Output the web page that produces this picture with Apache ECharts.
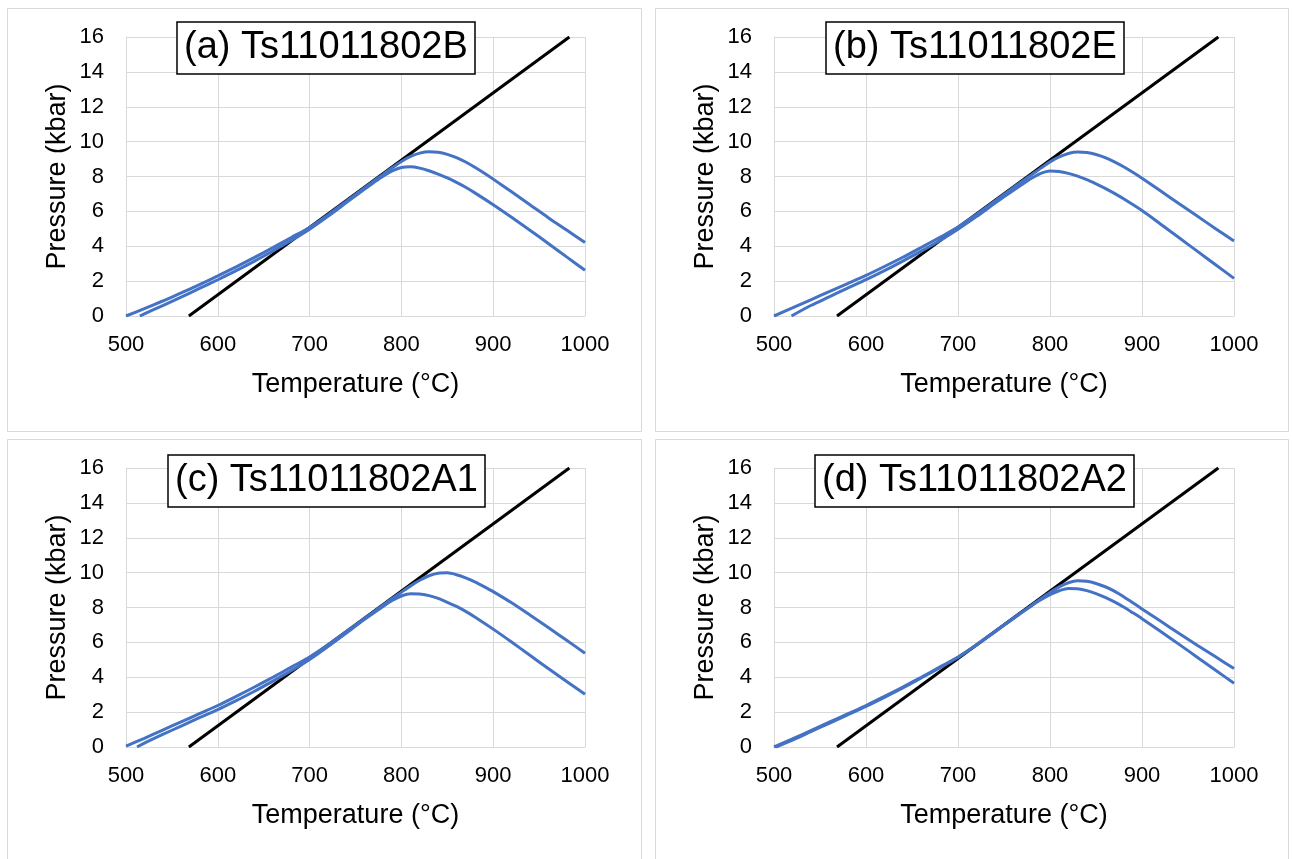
<!DOCTYPE html>
<html><head><meta charset="utf-8">
<script src="https://cdn.jsdelivr.net/npm/echarts/dist/echarts.min.js"></script>
<style>html,body{margin:0;padding:0;background:#fff}#c{width:1292px;height:859px}</style>
</head><body><div id="c"></div>
<script>
// ---- data ----
const panelTitles = ['(a) Ts11011802B', '(b) Ts11011802E', '(c) Ts11011802A1', '(d) Ts11011802A2'];
const xName = 'Temperature (°C)';
const yName = 'Pressure (kbar)';
const xMin = 500, xMax = 1000, xStep = 100;
const yMin = 0, yMax = 16, yStep = 2;

// black reference line (same in every panel): [T, P]
const refLine = [[568.5, 0], [983, 16]];

// panel (a)
const aHi = [[500,0],[520,0.42],[540,0.86],[560,1.32],[580,1.8],[600,2.3],[620,2.82],[640,3.36],[660,3.92],[680,4.5],[700,5.08],[720,5.8],[740,6.58],[760,7.36],[780,8.12],[790,8.5],[800,8.86],[810,9.15],[820,9.34],[830,9.42],[840,9.39],[850,9.27],[860,9.08],[870,8.83],[880,8.53],[890,8.2],[900,7.85],[920,7.12],[940,6.38],[960,5.64],[980,4.93],[1000,4.22]];
const aLo = [[515,0],[520,0.12],[540,0.6],[560,1.08],[580,1.58],[600,2.08],[620,2.6],[640,3.15],[660,3.73],[680,4.33],[700,4.98],[720,5.72],[740,6.5],[760,7.28],[770,7.66],[780,8.02],[790,8.32],[800,8.52],[810,8.56],[820,8.48],[830,8.33],[840,8.14],[850,7.92],[860,7.66],[870,7.38],[880,7.06],[900,6.38],[920,5.66],[940,4.92],[960,4.16],[980,3.39],[1000,2.62]];
// panel (b)
const bHi = [[500,0],[520,0.46],[540,0.93],[560,1.4],[580,1.86],[600,2.33],[620,2.84],[640,3.37],[660,3.93],[680,4.5],[700,5.1],[720,5.82],[740,6.58],[760,7.36],[780,8.1],[790,8.48],[800,8.84],[810,9.12],[820,9.32],[830,9.4],[840,9.37],[850,9.26],[860,9.08],[870,8.84],[880,8.56],[890,8.24],[900,7.9],[920,7.18],[940,6.45],[960,5.73],[980,5.01],[1000,4.3]];
const bLo = [[519,0],[540,0.6],[560,1.1],[580,1.6],[600,2.08],[620,2.6],[640,3.15],[660,3.72],[680,4.32],[700,4.98],[720,5.7],[740,6.46],[760,7.2],[770,7.56],[780,7.9],[790,8.18],[800,8.32],[810,8.29],[820,8.18],[830,8.02],[840,7.82],[850,7.58],[860,7.32],[870,7.03],[880,6.72],[900,6.05],[920,5.28],[940,4.5],[960,3.72],[980,2.94],[1000,2.16]];
// panel (c)
const cHi = [[500,0.05],[520,0.5],[540,0.97],[560,1.44],[580,1.91],[600,2.38],[620,2.9],[640,3.44],[660,4.0],[680,4.58],[700,5.16],[720,5.86],[740,6.62],[760,7.38],[780,8.14],[800,8.88],[810,9.24],[820,9.56],[830,9.82],[840,9.97],[850,9.99],[860,9.88],[870,9.7],[880,9.47],[890,9.2],[900,8.91],[920,8.27],[940,7.57],[960,6.85],[980,6.12],[1000,5.38]];
const cLo = [[512,0],[520,0.22],[540,0.72],[560,1.2],[580,1.68],[600,2.14],[620,2.66],[640,3.2],[660,3.78],[680,4.38],[700,5.02],[720,5.76],[740,6.54],[760,7.32],[780,8.06],[790,8.4],[800,8.66],[810,8.79],[820,8.78],[830,8.68],[840,8.52],[850,8.3],[860,8.06],[870,7.78],[880,7.46],[900,6.76],[920,6.02],[940,5.26],[960,4.5],[980,3.76],[1000,3.02]];
// panel (d)
const dHi = [[500,0],[520,0.46],[540,0.94],[560,1.42],[580,1.9],[600,2.38],[620,2.9],[640,3.44],[660,4.0],[680,4.58],[700,5.16],[720,5.86],[740,6.62],[760,7.38],[780,8.12],[790,8.5],[800,8.86],[810,9.18],[820,9.42],[830,9.53],[840,9.5],[850,9.38],[860,9.19],[870,8.94],[880,8.62],[890,8.27],[900,7.92],[920,7.22],[940,6.52],[960,5.84],[980,5.17],[1000,4.5]];
const dLo = [[502,0],[520,0.4],[540,0.88],[560,1.36],[580,1.84],[600,2.33],[620,2.85],[640,3.39],[660,3.96],[680,4.54],[700,5.13],[720,5.84],[740,6.6],[760,7.36],[780,8.1],[790,8.44],[800,8.74],[810,8.96],[820,9.09],[830,9.07],[840,8.97],[850,8.8],[860,8.58],[870,8.32],[880,8.03],[890,7.7],[900,7.36],[920,6.64],[940,5.9],[960,5.15],[980,4.4],[1000,3.66]];

const panelCurves = [[aHi, aLo], [bHi, bLo], [cHi, cLo], [dHi, dLo]];

// ---- layout ----
const FONT = '"Liberation Sans", Arial, sans-serif';
const gridBoxes = [
  {left: 126, top: 37, width: 459, height: 279},
  {left: 774, top: 37, width: 460, height: 279},
  {left: 126, top: 468, width: 459, height: 279},
  {left: 774, top: 468, width: 460, height: 279}
];
const panelFrames = [
  {x: 7, y: 8, width: 634, height: 423},
  {x: 655, y: 8, width: 633, height: 423},
  {x: 7, y: 439, width: 634, height: 430},
  {x: 655, y: 439, width: 633, height: 430}
];
const titlePos = [
  {left: 177, top: 22},
  {left: 826, top: 22},
  {left: 168, top: 455},
  {left: 815, top: 455}
];

const grids = [], xAxes = [], yAxes = [], series = [], titles = [], graphics = [];
const gridColor = '#d9d9d9';

panelFrames.forEach(f => graphics.push({
  type: 'rect', shape: {x: f.x + 0.5, y: f.y + 0.5, width: f.width, height: f.height},
  style: {fill: null, stroke: gridColor, lineWidth: 1}, z: -10, silent: true
}));

for (let i = 0; i < 4; i++) {
  grids.push(Object.assign({outerBoundsMode: 'none', containLabel: false}, gridBoxes[i]));
  xAxes.push({
    type: 'value', gridIndex: i, min: xMin, max: xMax, interval: xStep,
    name: xName, nameLocation: 'middle', nameGap: 55,
    nameTextStyle: {fontFamily: FONT, fontSize: 27, color: '#000'},
    axisLine: {show: true, lineStyle: {color: gridColor, width: 1}},
    axisTick: {show: false},
    axisLabel: {fontFamily: FONT, fontSize: 22, color: '#000', margin: 18, formatter: v => String(v)},
    splitLine: {show: true, lineStyle: {color: gridColor, width: 1}}
  });
  yAxes.push({
    type: 'value', gridIndex: i, min: yMin, max: yMax, interval: yStep,
    name: yName, nameLocation: 'middle', nameGap: 55, nameRotate: 90,
    nameTextStyle: {fontFamily: FONT, fontSize: 27, color: '#000'},
    axisLine: {show: true, lineStyle: {color: gridColor, width: 1}},
    axisTick: {show: false},
    axisLabel: {fontFamily: FONT, fontSize: 22, color: '#000', margin: 22, formatter: v => String(v)},
    splitLine: {show: true, lineStyle: {color: gridColor, width: 1}}
  });
  series.push({
    type: 'line', xAxisIndex: i, yAxisIndex: i, data: refLine,
    showSymbol: false, lineStyle: {color: '#000', width: 3}, z: 2, silent: true
  });
  panelCurves[i].forEach(curve => series.push({
    type: 'line', xAxisIndex: i, yAxisIndex: i, data: curve, smooth: 0.3,
    showSymbol: false, lineStyle: {color: '#4472C4', width: 3}, z: 3, silent: true
  }));
  titles.push({
    text: panelTitles[i], left: titlePos[i].left, top: titlePos[i].top,
    padding: [7, 7], borderColor: '#000', borderWidth: 1.5, backgroundColor: '#fff',
    textStyle: {fontFamily: FONT, fontSize: 38, fontWeight: 'normal', color: '#000', lineHeight: 38}
  });
}

const chart = echarts.init(document.getElementById('c'), null, {renderer: 'canvas'});
chart.setOption({
  animation: false,
  backgroundColor: '#fff',
  title: titles,
  grid: grids,
  xAxis: xAxes,
  yAxis: yAxes,
  series: series,
  graphic: graphics
});
</script>
</body></html>
